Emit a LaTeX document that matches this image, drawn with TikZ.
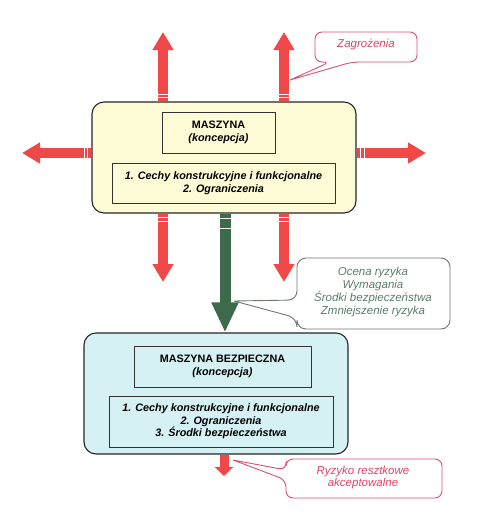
\documentclass[tikz,border=0pt]{standalone}
\usepackage{fontspec}
\setmainfont{Liberation Sans}
\usetikzlibrary{arrows.meta}
\definecolor{arrred}{HTML}{F04848}
\definecolor{arrgreen}{HTML}{3E6A4C}
\definecolor{boxyellow}{HTML}{FEFCD6}
\definecolor{boxcyan}{HTML}{D6F1F3}
\definecolor{callred}{HTML}{E0506E}
\definecolor{txtred}{HTML}{E04464}
\definecolor{callgray}{HTML}{707870}
\definecolor{txtgreen}{HTML}{5C7C6C}
\tikzset{
  outerbox/.style={draw=black!85, line width=1.1pt, rounded corners=12pt, inner sep=0pt},
  innerbox/.style={draw=black!80, line width=0.8pt, inner sep=0pt, align=center,
    font=\fontsize{10.8}{12.5}\selectfont\bfseries},
  redarrow/.style={draw=arrred, line width=10pt, -{Triangle[width=20pt,length=18pt]}},
  smallred/.style={draw=arrred, line width=9pt, -{Triangle[width=18pt,length=9pt]}},
  greenarrow/.style={draw=arrgreen, line width=11pt, -{Triangle[width=25pt,length=30pt]}},
  stripe/.style={draw=white, line width=1pt},
  redcall/.style={draw=callred, line width=0.9pt, rounded corners=7pt},
  graycall/.style={draw=callgray, line width=0.9pt, rounded corners=9pt},
  calltext/.style={align=center, font=\fontsize{11.5}{12.7}\selectfont\itshape}
}
\begin{document}
\begin{tikzpicture}[x=1pt,y=-1pt]
\useasboundingbox (0,0) rectangle (480,515);
\fill[white] (0,0) rectangle (480,515);

% top machine box
\node[outerbox, fill=boxyellow, minimum width=264pt, minimum height=111pt] (m) at (224,157.5) {};
\node[innerbox, fill=boxyellow, minimum width=113pt, minimum height=41pt] (m1) at (218.5,132.5)
  {MASZYNA\\\itshape (koncepcja)};
\node[innerbox, fill=boxyellow, minimum width=223pt, minimum height=40pt] (m2) at (223.5,183)
  {\itshape 1. Cechy konstrukcyjne i funkcjonalne\\\itshape 2. Ograniczenia};

% bottom safe machine box
\node[outerbox, fill=boxcyan, minimum width=264pt, minimum height=121pt] (s) at (216,393.5) {};
\node[innerbox, fill=boxcyan, minimum width=177pt, minimum height=41pt] (s1) at (222.5,366.5)
  {MASZYNA BEZPIECZNA\\\itshape (koncepcja)};
\node[innerbox, fill=boxcyan, minimum width=224pt, minimum height=51pt] (s2) at (221,421.5)
  {\itshape 1. Cechy konstrukcyjne i funkcjonalne\\\itshape 2. Ograniczenia\\\itshape 3. Środki bezpieczeństwa};

% arrow end points
\coordinate (upL) at (163,32);
\coordinate (upR) at (284,32);
\coordinate (dnL) at (163,282);
\coordinate (dnR) at (284,282);
\coordinate (lt) at (22,153);
\coordinate (rt) at (426,153);
\coordinate (gr) at (225,213);
\coordinate (rs) at (224,476);

% red hazard arrows
\draw[redarrow] (m.north -| upL) -- (upL);
\draw[redarrow] (m.north -| upR) -- (upR);
\draw[redarrow] (m.south -| dnL) -- (dnL);
\draw[redarrow] (m.south -| dnR) -- (dnR);
\draw[redarrow] (m.west |- lt) -- (lt);
\draw[redarrow] (m.east |- rt) -- (rt);
% green process arrow
\draw[greenarrow] (m.south -| gr) -- (s.north -| gr);
% residual risk arrow
\draw[smallred] (s.south -| rs) -- (rs);

% white stripes near the box edges
\foreach \xx in {163,284}{
  \draw[stripe] (\xx-5,94) -- (\xx+5,94);
  \draw[stripe] (\xx-5,97.5) -- (\xx+5,97.5);
  \draw[stripe] (\xx-5,217.5) -- (\xx+5,217.5);
  \draw[stripe] (\xx-5,221) -- (\xx+5,221);
}
\draw[stripe] (84,148) -- (84,158);
\draw[stripe] (87.5,148) -- (87.5,158);
\draw[stripe] (360.5,148) -- (360.5,158);
\draw[stripe] (364,148) -- (364,158);
\draw[stripe] (219.5,218) -- (230.5,218);
\draw[stripe] (219.5,228) -- (230.5,228);

% callout: Zagrozenia
\node[calltext, text=txtred] (zag) at (366,45) {Zagrożenia};
\draw[redcall] (290,80) -- (352,62) -- (417,62) -- (417,32) -- (315,32) -- (315,62) -- (330,62) [sharp corners] -- (290,80);

% callout: process
\node[calltext, text=txtgreen] (proc) at (373,292)
  {Ocena ryzyka\\Wymagania\\Środki bezpieczeństwa\\Zmniejszenie ryzyka};
\draw[graycall] (234,301) -- (297,318) -- (297,329) -- (450,329) -- (450,258) -- (297,258) -- (297,300) [sharp corners] -- (234,301);

% callout: residual risk
\node[calltext, text=txtred] (res) at (363,477.5) {Ryzyko resztkowe\\akceptowalne};
\draw[redcall] (233,460) -- (286,480) -- (286,498) -- (442,498) -- (442,459) -- (286,459) -- (286,470) [sharp corners] -- (233,460);
\end{tikzpicture}
\end{document}
